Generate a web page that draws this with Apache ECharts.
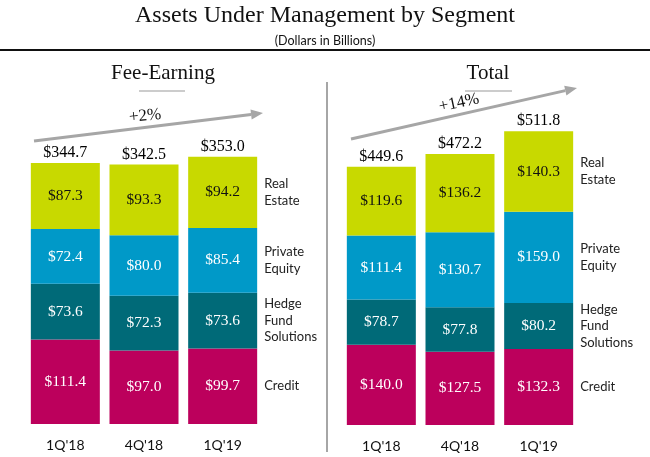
<!DOCTYPE html>
<html>
<head>
<meta charset="utf-8">
<script src="https://cdn.jsdelivr.net/npm/echarts@6/dist/echarts.min.js"></script>
<style>
  html, body { margin: 0; padding: 0; background: #fff; }
  #chart { width: 650px; height: 457px; }
</style>
</head>
<body>
<div id="chart"></div>
<script>
// data
var categories = ["1Q'18", "4Q'18", "1Q'19"];
var segmentNames = ['Credit', 'Hedge\nFund\nSolutions', 'Private\nEquity', 'Real\nEstate'];
var segmentColors = ['#BC005C', '#006A78', '#0099C8', '#C8D900'];
var labelColors = ['#fff', '#fff', '#fff', '#111'];

var feeCredit = [111.4, 97.0, 99.7];
var feeHedge = [73.6, 72.3, 73.6];
var feePrivate = [72.4, 80.0, 85.4];
var feeReal = [87.3, 93.3, 94.2];
var feeTotal = [344.7, 342.5, 353.0];

var totCredit = [140.0, 127.5, 132.3];
var totHedge = [78.7, 77.8, 80.2];
var totPrivate = [111.4, 130.7, 159.0];
var totReal = [119.6, 136.2, 140.3];
var totTotal = [449.6, 472.2, 511.8];

var growth = ['+2%', '+14%'];

var serif = '"Liberation Serif", "DejaVu Serif", serif';
var sans = 'Lato, "Open Sans", sans-serif';

var chart = echarts.init(document.getElementById('chart'));

function money(v) {
    return '$' + v.toFixed(1);
}

function stackSeries(name, data, idx, grid, stack) {
    return {
        name: name,
        type: 'bar',
        stack: stack,
        xAxisIndex: grid,
        yAxisIndex: grid,
        barWidth: 69,
        data: data,
        itemStyle: { color: segmentColors[idx] },
        label: {
            show: true,
            position: 'inside',
            color: labelColors[idx],
            fontFamily: serif,
            fontSize: 15.5,
            formatter: function (p) { return money(p.value) }
        }
    };
}

// zero-height bar on top of the stack, only carries the total label
function totalSeries(totals, grid, stack) {
    return {
        type: 'bar',
        stack: stack,
        xAxisIndex: grid,
        yAxisIndex: grid,
        barWidth: 69,
        data: totals.map(function () { return 0 }),
        itemStyle: { color: 'rgba(0,0,0,0)' },
        label: {
            show: true,
            position: 'top',
            distance: 2,
            color: '#000',
            fontFamily: serif,
            fontSize: 16,
            formatter: function (p) { return money(totals[p.dataIndex]) }
        }
    };
}

var feeSets = [feeCredit, feeHedge, feePrivate, feeReal];
var totSets = [totCredit, totHedge, totPrivate, totReal];

var series = [];
feeSets.forEach(function (d, i) { series.push(stackSeries(segmentNames[i], d, i, 0, 'fee')) });
series.push(totalSeries(feeTotal, 0, 'fee'));
totSets.forEach(function (d, i) { series.push(stackSeries(segmentNames[i], d, i, 1, 'tot')) });
series.push(totalSeries(totTotal, 1, 'tot'));

var xAxisBase = {
    type: 'category',
    data: categories,
    axisLine: { show: false },
    axisTick: { show: false },
    axisLabel: { margin: 14, color: '#111', fontFamily: sans, fontSize: 14 }
};

var option = {
    animation: false,
    grid: [
        { left: 26, width: 236, top: 121, height: 303 },
        { left: 342, width: 236, top: 109.3, height: 315.7 }
    ],
    xAxis: [
        Object.assign({ gridIndex: 0 }, xAxisBase),
        Object.assign({ gridIndex: 1 }, xAxisBase)
    ],
    yAxis: [
        { gridIndex: 0, type: 'value', min: 0, max: 400, show: false },
        { gridIndex: 1, type: 'value', min: 0, max: 550, show: false }
    ],
    series: series
};
chart.setOption(option);

function text(str, x, y, font, opts) {
    opts = opts || {};
    return {
        type: 'text',
        x: x,
        y: y,
        rotation: opts.rotation || 0,
        style: {
            text: str,
            font: font,
            fill: opts.fill || '#111',
            textAlign: opts.align || 'center',
            align: opts.align || 'center',
            textVerticalAlign: 'middle',
            verticalAlign: 'middle',
            lineHeight: opts.lineHeight
        }
    };
}

function line(x1, y1, x2, y2, color, w) {
    return { type: 'line', shape: { x1: x1, y1: y1, x2: x2, y2: y2 }, style: { stroke: color, lineWidth: w } };
}

function arrow(x1, y1, x2, y2) {
    var ang = Math.atan2(y2 - y1, x2 - x1);
    var L = 12, W = 5;
    var bx = x2 - L * Math.cos(ang), by = y2 - L * Math.sin(ang);
    var px = -Math.sin(ang) * W, py = Math.cos(ang) * W;
    return [
        line(x1, y1, bx, by, '#A6A6A6', 3),
        { type: 'polygon', shape: { points: [[x2, y2], [bx + px, by + py], [bx - px, by - py]] }, style: { fill: '#A6A6A6' } }
    ];
}

var g = [];
g.push(text('Assets Under Management by Segment', 325, 16, '24px ' + serif));
g.push(text('(Dollars in Billions)', 325, 41, '12.5px ' + sans));
g.push(line(0, 50, 650, 50, '#111', 2));
g.push(line(327, 82, 327, 452, '#A6A6A6', 2));

g.push(text('Fee-Earning', 163, 73, '21px ' + serif));
g.push(line(139, 91, 185, 91, '#999', 1));
g.push(text('Total', 488, 73, '21px ' + serif));
g.push(line(465, 91, 512, 91, '#999', 1));

g = g.concat(arrow(34, 141, 263, 113));
g.push(text(growth[0], 145, 116, '17px ' + serif, { rotation: 0.1 }));
g = g.concat(arrow(351, 139, 577, 88));
g.push(text(growth[1], 459, 103, '17px ' + serif, { rotation: 0.21 }));

// segment names beside the last bar of each panel
[feeSets, totSets].forEach(function (sets, gi) {
    var base = 0;
    var last = categories.length - 1;
    sets.forEach(function (d, i) {
        var mid = base + d[last] / 2;
        base += d[last];
        var pt = chart.convertToPixel({ gridIndex: gi }, [last, mid]);
        g.push(text(segmentNames[i], pt[0] + 34.5 + 7, pt[1], '13px ' + sans,
            { align: 'left', lineHeight: 16.5, fill: '#222' }));
    });
});

chart.setOption({ graphic: g });
</script>
</body>
</html>
